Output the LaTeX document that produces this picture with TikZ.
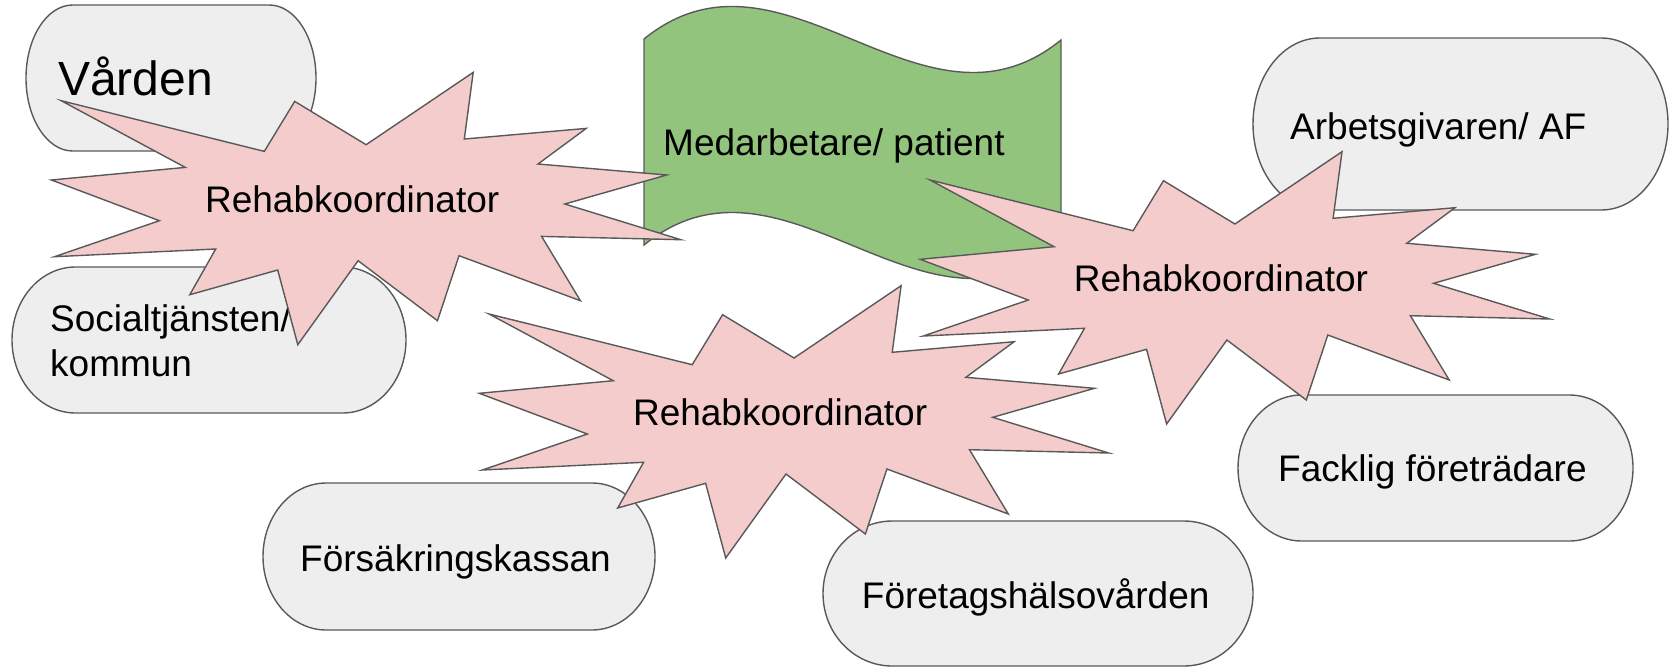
\documentclass[tikz,border=0pt]{standalone}
\usepackage{fontspec}
\setmainfont{Liberation Sans}
\usepackage{tikz}
\definecolor{rkline}{HTML}{595959}
\definecolor{rkbox}{HTML}{EEEEEE}
\definecolor{rkpink}{HTML}{F4CCCC}
\definecolor{rkgreen}{HTML}{93C47D}

% terminator-like box: x1, y1, x2, y2 (y grows downwards)
\newcommand{\pillbox}[4]{%
  \pgfmathsetmacro{\pxa}{#1}\pgfmathsetmacro{\pya}{#2}%
  \pgfmathsetmacro{\pxb}{#3}\pgfmathsetmacro{\pyb}{#4}%
  \pgfmathsetmacro{\prx}{0.161*(\pxb-\pxa)}%
  \pgfmathsetmacro{\pry}{(\pyb-\pya)/2}%
  \pgfmathsetmacro{\pkx}{0.5523*\prx}%
  \pgfmathsetmacro{\pky}{0.5523*\pry}%
  \draw[pill] (\pxa+\prx,\pya) -- (\pxb-\prx,\pya)
    .. controls (\pxb-\prx+\pkx,\pya) and (\pxb,\pya+\pry-\pky) .. (\pxb,\pya+\pry)
    .. controls (\pxb,\pya+\pry+\pky) and (\pxb-\prx+\pkx,\pyb) .. (\pxb-\prx,\pyb)
    -- (\pxa+\prx,\pyb)
    .. controls (\pxa+\prx-\pkx,\pyb) and (\pxa,\pya+\pry+\pky) .. (\pxa,\pya+\pry)
    .. controls (\pxa,\pya+\pry-\pky) and (\pxa+\prx-\pkx,\pya) .. (\pxa+\prx,\pya) -- cycle;}

% explosion shape with its label; name, x, y of the label baseline
\newcommand{\rehabburst}[3]{%
  \begin{scope}[shift={(#2,#3)}]
    \draw[burst] (-291,-111.7) -- (-87.9,-61) -- (-57.5,-111) -- (13.9,-67.7)
      -- (121,-140) -- (112.1,-73.4) -- (234,-84) -- (185.8,-48.4)
      -- (314.4,-37.4) -- (212.6,-8.4) -- (328.6,27.3) -- (189.4,24)
      -- (228.2,88.3) -- (106.8,43.3) -- (85.3,108.3) -- (5.9,48.3)
      -- (-54.4,132.3) -- (-74.5,57.6) -- (-162.4,82.3) -- (-136.5,36.6)
      -- (-297.7,44.3) -- (-192.8,8.3) -- (-300.8,-32.4) -- (-166.9,-45) -- cycle;
    \node[lbl, anchor=base] (#1) at (0,0) {Rehabkoordinator};
  \end{scope}}

\begin{document}
\begin{tikzpicture}[x=1pt, y=-1pt,
  pill/.style={draw=rkline, fill=rkbox, line width=1.4pt},
  burst/.style={draw=rkline, fill=rkpink, line width=1.4pt, line join=miter},
  flag/.style={draw=rkline, fill=rkgreen, line width=1.4pt},
  lbl/.style={font=\fontsize{37}{45}\selectfont, text=black, inner sep=0pt},
  biglbl/.style={font=\fontsize{48}{56}\selectfont, text=black, inner sep=0pt}
]
  \useasboundingbox (0,0) rectangle (1669,667);

  \pillbox{26}{5}{316}{151}
  \node[biglbl, anchor=base west] (varden) at (58,95) {Vården};

  \pillbox{12}{267}{406}{413}
  \node[lbl, anchor=base west, align=left] (social) at (50,376.7) {Socialtjänsten/\\kommun};

  \pillbox{1253}{38}{1668}{210}
  \node[lbl, anchor=base west] (arbetsgivare) at (1290,139) {Arbetsgivaren/ AF};

  \pillbox{1238}{395}{1633}{541}
  \node[lbl, anchor=base west] (facklig) at (1278,481.7) {Facklig företrädare};

  \pillbox{823}{521}{1253}{666}
  \node[lbl, anchor=base west] (fhv) at (861.7,608.3) {Företagshälsovården};

  \pillbox{263}{483}{655}{630}
  \node[lbl, anchor=base west] (fk) at (300,571.7) {Försäkringskassan};

  % wavy banner
  \draw[flag] (644,39) .. controls (783,-74) and (922,153) .. (1061,40)
    -- (1061,246) .. controls (922,359) and (783,132) .. (644,245) -- cycle;
  \node[lbl, anchor=base west] (patient) at (663,155) {Medarbetare/ patient};

  \rehabburst{rkleft}{352.2}{212.4}
  \rehabburst{rkright}{1221}{291.7}
  \rehabburst{rkmid}{780.1}{425.7}
\end{tikzpicture}
\end{document}
